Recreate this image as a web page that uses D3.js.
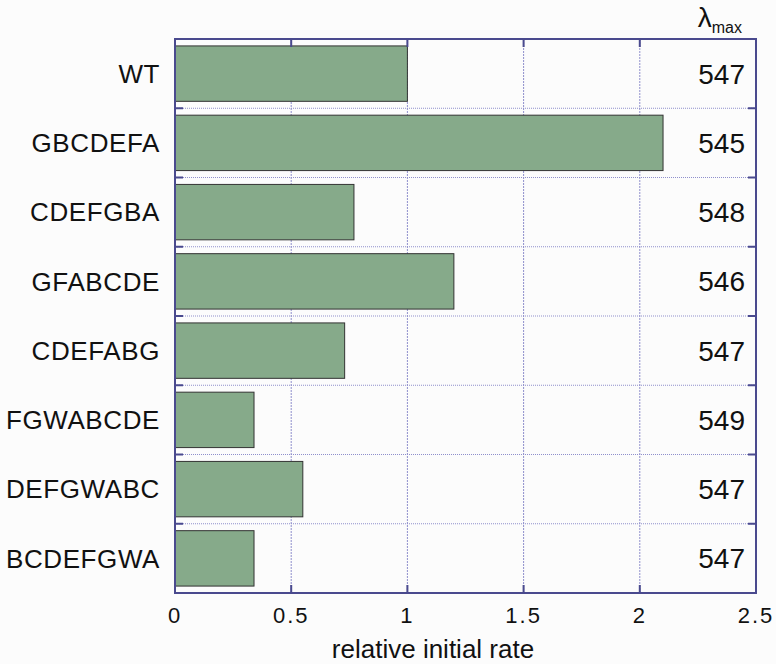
<!DOCTYPE html>
<html>
<head>
<meta charset="utf-8">
<script src="https://cdn.jsdelivr.net/npm/d3@7"></script>
<style>
  body { margin: 0; background: #fcfcfc; }
  text { font-family: "Liberation Sans", Arial, sans-serif; fill: #111; }
</style>
</head>
<body>
<div id="chart"></div>
<script>
// chart values
const constructs = ["WT", "GBCDEFA", "CDEFGBA", "GFABCDE", "CDEFABG", "FGWABCDE", "DEFGWABC", "BCDEFGWA"];
const rates = [1.0, 2.1, 0.77, 1.2, 0.73, 0.34, 0.55, 0.34];
const lambdaMax = [547, 545, 548, 546, 547, 549, 547, 547];
const xTicks = [0, 0.5, 1, 1.5, 2, 2.5];

var width = 776, height = 664;
var margin = {top: 39, right: 20, bottom: 71, left: 175};
var iw = width - margin.left - margin.right,
    ih = height - margin.top - margin.bottom;

var svg = d3.select("#chart").append("svg")
    .attr("width", width)
    .attr("height", height);

const g = svg.append("g")
    .attr("transform", "translate(" + margin.left + "," + margin.top + ")");

const x = d3.scaleLinear().domain([0, 2.5]).range([0, iw]);
const y = d3.scaleBand().domain(constructs).range([0, ih])
    .paddingInner(0.2).paddingOuter(0.1);

const frame = "#4a4a8e", grid = "#8f8fcc";
const step = y.step();
const bounds = d3.range(1, constructs.length);

// grid lines
g.selectAll(".vgrid").data(xTicks.slice(1, -1))
  .enter().append("line")
    .attr("x1", d => x(d)).attr("x2", d => x(d))
    .attr("y1", 0).attr("y2", ih)
    .attr("stroke", grid).attr("stroke-width", 1)
    .attr("stroke-dasharray", "2,1");

g.selectAll(".hgrid").data(bounds)
  .enter().append("line")
    .attr("x1", 0).attr("x2", iw)
    .attr("y1", d => d * step).attr("y2", d => d * step)
    .attr("stroke", grid).attr("stroke-width", 1.2)
    .attr("stroke-dasharray", "1,1");

// bars
g.selectAll("rect.bar").data(constructs)
  .enter().append("rect")
    .attr("class", "bar")
    .attr("x", x(0))
    .attr("y", d => y(d))
    .attr("width", (d, i) => x(rates[i]) - x(0))
    .attr("height", y.bandwidth())
    .attr("fill", "#86aa8a")
    .attr("stroke", "#333")
    .attr("stroke-width", 1);

// frame
g.append("rect")
    .attr("width", iw).attr("height", ih)
    .attr("fill", "none").attr("stroke", frame).attr("stroke-width", 2);

// ticks along top and bottom, inward
g.selectAll(".xtick").data(xTicks.slice(1, -1))
  .enter().append("path")
    .attr("d", d => "M" + x(d) + ",0v8M" + x(d) + "," + ih + "v-8")
    .attr("stroke", frame).attr("stroke-width", 2);

// ticks at row boundaries, inward
g.selectAll(".ytick").data(bounds)
  .enter().append("path")
    .attr("d", d => "M0," + d * step + "h8M" + iw + "," + d * step + "h-8")
    .attr("stroke", frame).attr("stroke-width", 2);

// x tick labels
g.selectAll(".xlab").data(xTicks)
  .enter().append("text")
    .attr("x", d => x(d))
    .attr("y", ih + 30)
    .attr("text-anchor", "middle")
    .attr("font-size", 22)
    .attr("letter-spacing", 2)
    .text(d => d);

// category labels
g.selectAll(".ylab").data(constructs)
  .enter().append("text")
    .attr("x", -15)
    .attr("y", d => y(d) + y.bandwidth() / 2)
    .attr("dy", "0.36em")
    .attr("text-anchor", "end")
    .attr("font-size", 26)
    .attr("letter-spacing", 0.6)
    .text(d => d);

// lambda max values
g.selectAll(".lam").data(lambdaMax)
  .enter().append("text")
    .attr("x", iw - 11)
    .attr("y", (d, i) => y(constructs[i]) + y.bandwidth() / 2)
    .attr("dy", "0.36em")
    .attr("text-anchor", "end")
    .attr("font-size", 28)
    .text(d => d);

// lambda max header
const hdr = g.append("text")
    .attr("x", iw - 14)
    .attr("y", -12)
    .attr("text-anchor", "end")
    .attr("font-size", 28);
hdr.append("tspan").text("λ");
hdr.append("tspan").attr("font-size", 16).attr("dy", 6).text("max");

// axis title
g.append("text")
    .attr("x", 258)
    .attr("y", ih + 65)
    .attr("text-anchor", "middle")
    .attr("font-size", 26)
    .text("relative initial rate");
</script>
</body>
</html>
